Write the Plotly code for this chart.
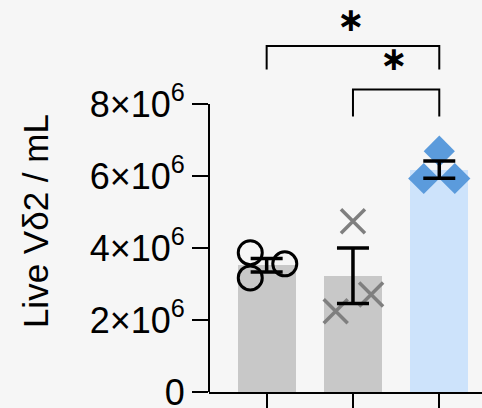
import plotly.graph_objects as go

# ---- data ----
groups = ["Group 1", "Group 2", "Group 3"]
means = [3.52e6, 3.23e6, 6.18e6]
sems = [0.19e6, 0.77e6, 0.24e6]
g1_values = [3.87e6, 3.17e6, 3.56e6]
g2_values = [2.24e6, 4.74e6, 2.71e6]
g3_values = [5.93e6, 6.69e6, 5.93e6]
g1_jitter = [-0.19, -0.19, 0.21]
g2_jitter = [-0.20, 0.0, 0.21]
g3_jitter = [-0.18, 0.0, 0.18]
y_ticks = [0, 2e6, 4e6, 6e6, 8e6]
y_ticktext = ["0", "2×10<sup>6</sup>", "4×10<sup>6</sup>", "6×10<sup>6</sup>", "8×10<sup>6</sup>"]
y_title = "Live Vδ2 / mL"
comparisons = [(0, 2, "∗"), (1, 2, "∗")]

FONT = "Liberation Sans, Arial, sans-serif"
STAR_FONT = "DejaVu Sans"
BG = "#f6f6f6"
bar_colors = ["#c8c8c8", "#c8c8c8", "#cde3fb"]
xs = list(range(len(groups)))

fig = go.Figure()
fig.add_trace(go.Bar(x=xs, y=means, width=0.67, marker=dict(color=bar_colors, line=dict(width=0)),
                     hovertext=groups, showlegend=False))

fig.add_trace(go.Scatter(x=[xs[0] + j for j in g1_jitter], y=g1_values, mode="markers",
                         marker=dict(symbol="circle-open", size=24, color="black", line=dict(width=3, color="black")),
                         showlegend=False))
fig.add_trace(go.Scatter(x=[xs[1] + j for j in g2_jitter], y=g2_values, mode="markers",
                         marker=dict(symbol="x-thin-open", size=24, color="#7f7f7f", line=dict(width=3.5, color="#7f7f7f")),
                         showlegend=False))
fig.add_trace(go.Scatter(x=[xs[2] + j for j in g3_jitter], y=g3_values, mode="markers",
                         marker=dict(symbol="diamond", size=24, color="#5b9bdc", line=dict(width=0)),
                         showlegend=False))
fig.add_trace(go.Scatter(x=xs, y=means, mode="markers", marker=dict(size=1, opacity=0),
                         error_y=dict(type="data", array=sems, visible=True, color="black", thickness=3.5, width=16),
                         showlegend=False, hoverinfo="skip"))

# y axis line stops at the top tick
fig.add_shape(type="line", xref="paper", yref="y", x0=0, x1=0, y0=0, y1=y_ticks[-1],
              line=dict(color="black", width=2))

# significance brackets
bracket_levels = [(9.61e6, 8.96e6, 10.347e6), (8.40e6, 7.65e6, 9.26e6)]
for (a, b, label), (ytop, ybot, ystar) in zip(comparisons, bracket_levels):
    fig.add_shape(type="path", xref="x", yref="y",
                  path=f"M {a},{ybot} L {a},{ytop} L {b},{ytop} L {b},{ybot}",
                  line=dict(color="black", width=2))
    fig.add_annotation(x=(a + b) / 2 - 0.02, y=ystar, xref="x", yref="y", text=f"<b>{label}</b>", showarrow=False,
                       xanchor="center", yanchor="middle", borderpad=0,
                       font=dict(family=STAR_FONT, size=33, color="black"))

fig.add_annotation(x=-0.637, y=4.75e6, xref="paper", yref="y", text=y_title, textangle=-90,
                   xanchor="center", yanchor="middle",
                   showarrow=False, font=dict(family=FONT, size=35, color="black"))

fig.update_layout(
    width=482, height=408,
    margin=dict(l=209, r=0, t=0, b=16),
    paper_bgcolor=BG, plot_bgcolor=BG,
    font=dict(family=FONT, size=36, color="black"),
    bargap=0,
    xaxis=dict(range=[-0.668, 2.495], tickvals=xs, showticklabels=False, ticks="outside", ticklen=16,
               tickwidth=2, tickcolor="black", showline=True, linewidth=2, linecolor="black",
               showgrid=False, zeroline=False, automargin=False),
    yaxis=dict(range=[0, 392 * 2e6 / 72], tickvals=y_ticks, ticktext=y_ticktext, ticks="outside",
               ticklen=16, tickwidth=2, tickcolor="black", showline=False, showgrid=False, zeroline=False,
               ticklabeloverflow="allow", automargin=False,
               tickfont=dict(family=FONT, size=36, color="black")),
)

fig.write_html("out.html", config={"displayModeBar": False},
               post_script="document.body.style.margin='0';document.body.style.background='" + BG + "';")
